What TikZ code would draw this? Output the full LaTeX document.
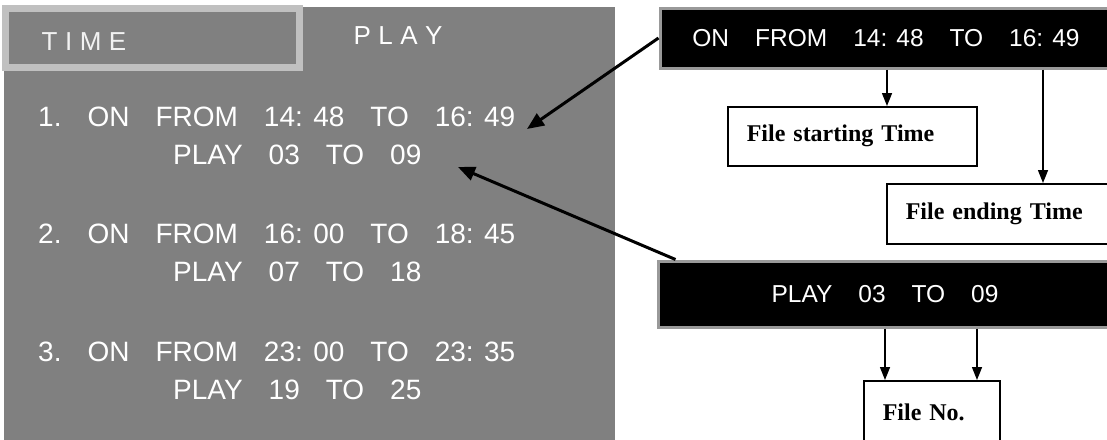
\documentclass[tikz,border=0pt]{standalone}
\usepackage{fontspec}
\setmainfont{Liberation Serif}
\setsansfont{Liberation Sans}
\usetikzlibrary{arrows.meta}

\definecolor{panelgrey}{HTML}{808080}
\definecolor{rimgrey}{HTML}{C0C0C0}
\definecolor{edgegrey}{HTML}{999999}
\definecolor{offwhite}{HTML}{F2F2F2}

\newcommand{\gp}{\hspace{26pt}}
\newcommand{\ls}{\hspace{7.5pt}}

\tikzset{
  osdline/.style={anchor=west, inner sep=0pt, text=white, font=\sffamily\fontsize{28}{32}\selectfont},
  osdhead/.style={inner sep=0pt, font=\sffamily\fontsize{26}{30}\selectfont},
  timebox/.style={draw=rimgrey, line width=7pt, fill=panelgrey, minimum width=294pt, minimum height=59pt, inner sep=0pt},
  osdbar/.style={fill=black, draw=edgegrey, line width=3pt, minimum height=60pt, inner sep=0pt, text=white, font=\sffamily\fontsize{24.5}{28}\selectfont},
  labelbox/.style={draw=black, line width=1.5pt, fill=white, anchor=north west, inner xsep=19pt, inner ysep=0pt, align=left, font=\bfseries\fontsize{24}{28}\selectfont},
  bigarrow/.style={line width=3pt, -{Triangle[length=17pt,width=14pt]}},
  smallarrow/.style={line width=1.5pt, -{Triangle[length=13pt,width=10pt]}}
}

\begin{document}
\begin{tikzpicture}[x=1pt,y=-1pt]
  \useasboundingbox (0,0) rectangle (1107,439);

  % on-screen menu
  \fill [panelgrey] (4,7) rectangle (615,445);
  \node [timebox] (timebox) at (152.5,38) {};
  \node [osdhead, text=offwhite] (timelbl) at (84,42) {T\ls I\ls M\ls E};
  \node [osdhead, text=white] (playlbl) at (398,36) {P\ls L\ls A\ls Y};

  \node [osdline] (on1) at (38,117) {1.\gp ON\gp FROM\gp 14: 48\gp TO\gp 16: 49};
  \node [osdline] (pl1) at (173,155) {PLAY\gp 03\gp TO\gp 09};
  \node [osdline] (on2) at (38,234) {2.\gp ON\gp FROM\gp 16: 00\gp TO\gp 18: 45};
  \node [osdline] (pl2) at (173,272) {PLAY\gp 07\gp TO\gp 18};
  \node [osdline] (on3) at (38,352) {3.\gp ON\gp FROM\gp 23: 00\gp TO\gp 23: 35};
  \node [osdline] (pl3) at (173,390) {PLAY\gp 19\gp TO\gp 25};

  % enlarged lines
  \node [osdbar, minimum width=452pt] (bar1) at (886,38) {ON\gp FROM\gp 14: 48\gp TO\gp 16: 49};
  \node [osdbar, minimum width=454pt, minimum height=66pt] (bar2) at (885,294) {PLAY\gp 03\gp TO\gp 09};

  % explanations
  \node [labelbox, text width=211pt, minimum height=59pt] (startbox) at (727,106) {File starting Time};
  \node [labelbox, text width=192pt, minimum height=60pt] (endbox) at (886,183) {File ending Time};
  \node [labelbox, text width=98pt, minimum height=64pt] (filebox) at (863,380) {File No.};

  % pointers
  \coordinate (tip1) at (527,129);
  \coordinate (tip2) at (458,167);
  \draw [bigarrow] (bar1.west) -- (tip1);
  \draw [bigarrow] ([xshift=19pt]bar2.north west) -- (tip2);

  \coordinate (c1) at (887,0);
  \coordinate (c2) at (1043,0);
  \coordinate (c3) at (885,0);
  \coordinate (c4) at (977,0);
  \draw [smallarrow] (bar1.south -| c1) -- (startbox.north -| c1);
  \draw [smallarrow] (bar1.south -| c2) -- (endbox.north -| c2);
  \draw [smallarrow] (bar2.south -| c3) -- (filebox.north -| c3);
  \draw [smallarrow] (bar2.south -| c4) -- (filebox.north -| c4);
\end{tikzpicture}
\end{document}
